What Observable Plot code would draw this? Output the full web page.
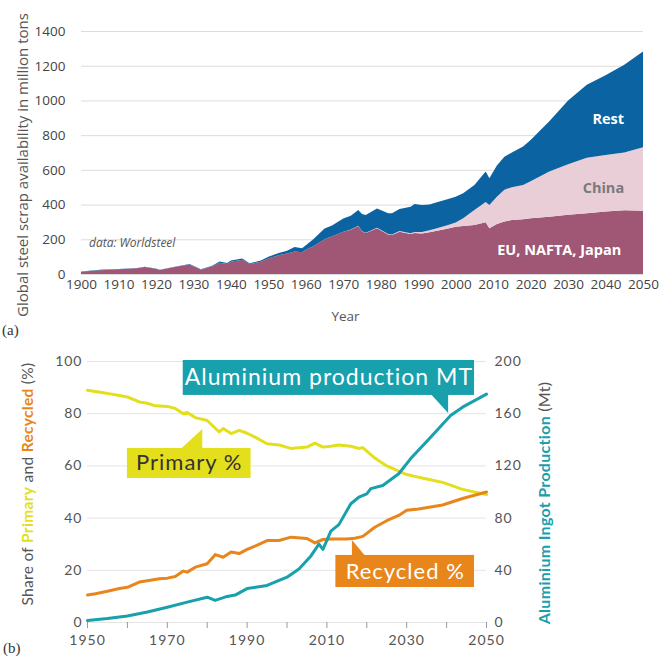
<!DOCTYPE html>
<html><head><meta charset="utf-8">
<script src="https://cdn.jsdelivr.net/npm/d3@7"></script>
<script src="https://cdn.jsdelivr.net/npm/@observablehq/plot@0.6"></script>
<style>
body{margin:0;background:#fff;}
#wrap{position:relative;width:662px;height:659px;overflow:hidden;background:#fff;}
#a{position:absolute;left:0;top:0;}
#b{position:absolute;left:0;top:330px;}
.tag{position:absolute;font-family:"Liberation Serif",serif;font-size:15px;color:#333;}
</style></head><body>
<div id="wrap"><div id="a"></div><div id="b"></div>
<div class="tag" style="left:2px;top:322px;">(a)</div>
<div class="tag" style="left:3px;top:640px;">(b)</div>
</div>
<script>
// ---------- Panel (a): global steel scrap availability (million tons) ----------
const steelYears = [1900,1905,1910,1915,1917,1920,1921,1925,1929,1932,1935,1937,1939,1940,1943,1945,1948,1950,1953,1955,1957,1959,1960,1962,1965,1967,1970,1972,1974,1975,1976,1979,1982,1983,1985,1988,1989,1991,1993,1995,1998,2000,2002,2005,2008,2009,2011,2013,2015,2018,2020,2025,2030,2035,2040,2045,2050];
const euNaftaJapan = [13,22,27,33,40,30,23,40,55,25,45,65,58,70,82,58,70,90,110,118,130,125,140,160,200,218,244,255,276,245,236,263,228,225,244,230,236,234,240,249,262,272,276,282,298,263,288,302,311,316,321,330,342,350,360,368,365];
const china = [0,0,0,0,0,0,0,0,0,0,0,0,0,0,0,0,0,0,0,0,0,0,0,0,0,0,0,1,2,2,2,3,3,3,4,5,6,8,12,15,20,25,45,87,117,134,157,183,189,197,214,260,290,320,325,332,365];
const rest = [2,2,2,2,2,2,2,2,3,2,3,7,5,8,8,4,8,10,12,16,25,23,25,40,62,62,76,79,91,98,102,112,119,122,127,153,161,156,148,149,150,148,144,144,175,154,180,191,200,222,237,290,368,420,460,505,552];
const regionNames = ["EU, NAFTA, Japan", "China", "Rest"];
const steelTicks = [0,200,400,600,800,1000,1200,1400];
const yearTicksA = [1900,1910,1920,1930,1940,1950,1960,1970,1980,1990,2000,2010,2020,2030,2040,2050];

// ---------- Panel (b): aluminium ----------
const primaryYears = [1950,1952,1954,1956,1958,1960,1963,1965,1967,1970,1972,1974,1975,1977,1980,1983,1984,1986,1988,1990,1992,1995,1998,2001,2005,2007,2009,2011,2013,2016,2018,2019,2022,2025,2028,2030,2032,2035,2039,2044,2050];
const primaryShare = [89,88.5,88,87.5,87,86.4,84.5,84,83,82.8,82,80,80.5,78.5,77.4,73,74.3,72.4,73.6,72.5,71,68.5,68,66.7,67.2,68.7,67.2,67.5,68,67.5,66.7,67,63,60,58,56.7,56,55,53.7,51,49];
const recycledYears = [1950,1952,1955,1958,1960,1963,1965,1968,1970,1972,1974,1975,1977,1980,1982,1984,1986,1988,1990,1992,1995,1998,2001,2005,2007,2009,2011,2015,2017,2019,2022,2025,2028,2030,2033,2039,2044,2050];
const recycledShare = [10.5,11,12,13,13.5,15.5,16,16.8,17,17.6,19.7,19.3,21.2,22.5,26,25,27,26.4,28,29.3,31.4,31.4,32.7,32.2,30.5,31.8,32,32,32.3,33,36.5,39,41,43,43.5,45,47.5,50];
const aluYears = [1950,1955,1960,1965,1970,1975,1980,1982,1985,1987,1990,1995,2000,2003,2006,2008,2009,2011,2013,2016,2018,2020,2021,2024,2028,2031,2036,2041,2044,2050];
const aluMt = [1.5,3,5,8,11.7,15.6,19.4,16.9,20,21,26,28.4,34.7,41,51,60,56,70,75,91,96,98.6,102.6,105,114,125.6,142,158.6,165,175];
const shareTicks = [0,20,40,60,80,100];
const yearTicksB = [1950,1960,1970,1980,1990,2000,2010,2020,2030,2040,2050];

// ---------- styles ----------
const C = {
  eu: "#9f5775", china: "#e9cdd7", rest: "#0b63a1",
  yellow: "#e4df1c", orange: "#e8861b", teal: "#18a0ac",
  tick: "#555", grid: "#dcdcdc"
};

// ---------- build panel (a) ----------
const regionSeries = [euNaftaJapan, china, rest];
const steel = regionNames.flatMap((name, k) =>
  steelYears.map((year, i) => ({year, region: name, value: regionSeries[k][i]})));

const whiteLabelsA = [
  {text: "Rest", year: 2040.6, value: 891},
  {text: "EU, NAFTA, Japan", year: 2027.5, value: 138}
];
const grayLabelsA = [{text: "China", year: 2039.3, value: 497}];

const chartA = Plot.plot({
  width: 662, height: 330,
  marginLeft: 81, marginRight: 19, marginTop: 31, marginBottom: 56,
  style: {fontFamily: "'Open Sans', sans-serif", fontSize: "13.5px", color: C.tick, background: "transparent", overflow: "visible"},
  x: {domain: [1900, 2050]},
  y: {domain: [0, 1400]},
  color: {domain: regionNames, range: [C.eu, C.china, C.rest]},
  marks: [
    Plot.gridY(steelTicks, {stroke: C.grid, strokeOpacity: 1}),
    Plot.areaY(steel, {x: "year", y: "value", z: "region", fill: "region"}),
    Plot.axisX(yearTicksA, {tickSize: 0, tickPadding: 5, tickFormat: d => String(d), label: null, fill: "#444"}),
    Plot.axisY(steelTicks, {tickSize: 0, tickPadding: 16, tickFormat: d => String(d), label: null, fill: "#444"}),
    Plot.text(whiteLabelsA, {x: "year", y: "value", text: "text", fill: "white", fontWeight: "bold", fontSize: 14.5}),
    Plot.text(grayLabelsA, {x: "year", y: "value", text: "text", fill: "#7a7a7a", fontWeight: "bold", fontSize: 14.5}),
    Plot.text(["data: Worldsteel"], {x: 1902, y: 178, text: d => d, textAnchor: "start", fontStyle: "italic", fontSize: 12, fill: "#555"}),
    Plot.text(["Year"], {frameAnchor: "bottom", text: d => d, dx: -17, dy: 46, fontSize: 13.5, fill: "#555"})
  ]
});
d3.select(chartA).append("text")
  .attr("transform", "translate(24,317) rotate(-90)")
  .attr("text-anchor", "start").attr("dominant-baseline", "middle")
  .attr("font-size", 15).attr("fill", "#555")
  .text("Global steel scrap availability in million tons");
document.getElementById("a").appendChild(chartA);

// ---------- build panel (b) ----------
const primary = primaryYears.map((year, i) => ({year, value: primaryShare[i]}));
const recycled = recycledYears.map((year, i) => ({year, value: recycledShare[i]}));
const alu = aluYears.map((year, i) => ({year, value: aluMt[i]}));

const callouts = [
  {label: "Aluminium production MT", x1: 1974, x2: 2047, y1: 87, y2: 100.4, fill: C.teal, ink: "white", size: 23,
   tri: [{x: 2035.75, lo: 88, hi: 88}, {x: 2040.5, lo: 88, hi: 80.1}]},
  {label: "Primary %", x1: 1960, x2: 1991, y1: 55.2, y2: 66.7, fill: C.yellow, ink: "#333", size: 22,
   tri: [{x: 1973.25, lo: 66, hi: 66}, {x: 1978.9, lo: 66, hi: 73.9}]},
  {label: "Recycled %", x1: 2012.25, x2: 2047, y1: 13.4, y2: 25.7, fill: C.orange, ink: "white", size: 22,
   tri: [{x: 2016.4, lo: 25, hi: 31.4}, {x: 2019.9, lo: 25, hi: 25}]}
];

const calloutMarks = callouts.flatMap(c => [
  Plot.rect([c], {x1: "x1", x2: "x2", y1: "y1", y2: "y2", fill: c.fill}),
  Plot.areaY(c.tri, {x: "x", y1: "lo", y2: "hi", fill: c.fill}),
  Plot.text([c], {x: d => (d.x1 + d.x2) / 2, y: d => (d.y1 + d.y2) / 2, text: "label", fill: c.ink, fontSize: c.size})
]);

const chartB = Plot.plot({
  width: 662, height: 329,
  marginLeft: 87, marginRight: 176, marginTop: 31, marginBottom: 37,
  style: {fontFamily: "Lato, sans-serif", fontSize: "14px", color: C.tick, background: "transparent", overflow: "visible", letterSpacing: "1px"},
  x: {domain: [1950, 2050]},
  y: {domain: [0, 100]},
  marks: [
    Plot.gridY(shareTicks, {stroke: "#e4e4e4", strokeOpacity: 1}),
    Plot.axisX(yearTicksB, {tickSize: 6, tickPadding: 7, stroke: "#999", fill: "#555",
      tickFormat: d => (d - 1950) % 20 === 0 ? String(d) : "", label: null}),
    Plot.axisY(shareTicks, {anchor: "left", tickSize: 0, tickPadding: 5, fill: "#555", label: null}),
    Plot.axisY(shareTicks, {anchor: "right", tickSize: 0, tickPadding: 8, fill: "#555", tickFormat: d => String(d * 2), label: null}),
    Plot.line(primary, {x: "year", y: "value", stroke: C.yellow, strokeWidth: 3}),
    Plot.line(recycled, {x: "year", y: "value", stroke: C.orange, strokeWidth: 3}),
    Plot.line(alu, {x: "year", y: d => d.value / 2, stroke: C.teal, strokeWidth: 3}),
    ...calloutMarks
  ]
});
const svgB = d3.select(chartB);
const leftTitle = svgB.append("text")
  .attr("transform", "translate(29,154) rotate(-90)")
  .attr("text-anchor", "middle").attr("dominant-baseline", "middle")
  .attr("font-size", 15.5).attr("letter-spacing", "0.3px").attr("fill", "#555");
[["Share of ", "#555"], ["Primary", C.yellow], [" and ", "#555"], ["Recycled", C.orange], [" (%)", "#555"]]
  .forEach(([t, col]) => leftTitle.append("tspan").attr("fill", col)
    .attr("font-weight", col === "#555" ? "normal" : "bold").text(t));
const rightTitle = svgB.append("text")
  .attr("transform", "translate(546,173) rotate(-90)")
  .attr("text-anchor", "middle").attr("dominant-baseline", "middle")
  .attr("font-size", 16).attr("letter-spacing", "0.3px").attr("fill", "#555");
[["Aluminium Ingot Production ", C.teal], ["(Mt)", "#555"]]
  .forEach(([t, col]) => rightTitle.append("tspan").attr("fill", col)
    .attr("font-weight", col === "#555" ? "normal" : "bold").text(t));
document.getElementById("b").appendChild(chartB);
</script>
</body></html>
